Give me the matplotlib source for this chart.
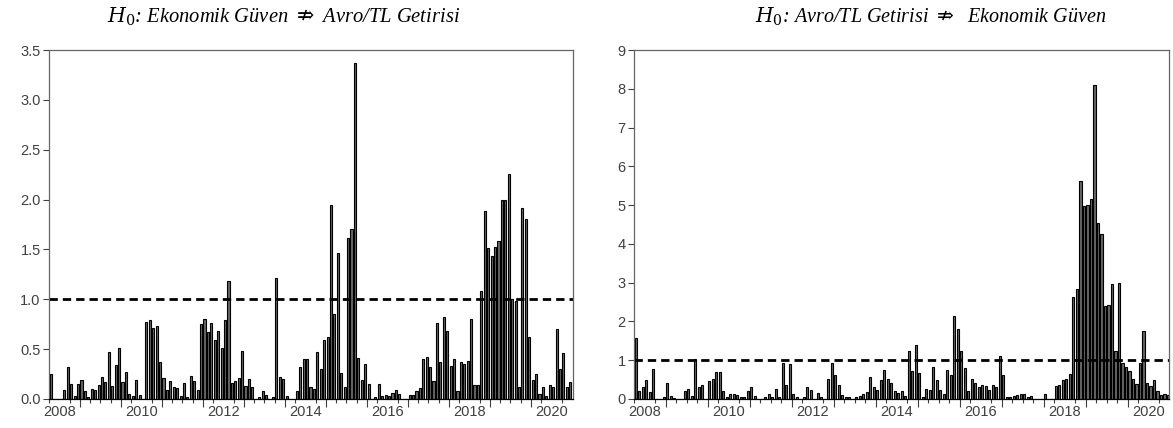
import numpy as np
import pandas as pd
import matplotlib
matplotlib.use("Agg")
import matplotlib.pyplot as plt

# aylik seriler, 2008M04 - 2020M12
aylar = pd.period_range("2008-04", "2020-12", freq="M")

guven_to_kur = [
    0.25, 0, 0, 0, 0.09, 0.32, 0.15, 0.03, 0.15, 0.19, 0.08, 0.02, 0.10, 0.09, 0.14, 0.22,
    0.17, 0.47, 0.13, 0.34, 0.51, 0.17, 0.27, 0.05, 0.03, 0.19, 0.04, 0.0, 0.77, 0.79, 0.71, 0.73,
    0.37, 0.21, 0.09, 0.18, 0.12, 0.11, 0.03, 0.16, 0.02, 0.23, 0.18, 0.09, 0.75, 0.80, 0.67, 0.76,
    0.59, 0.68, 0.51, 0.79, 1.18, 0.16, 0.18, 0.21, 0.48, 0.13, 0.20, 0.12, 0.0, 0.02, 0.08, 0.04,
    0.0, 0.02, 1.21, 0.22, 0.20, 0.03, 0.0, 0.0, 0.08, 0.32, 0.40, 0.40, 0.12, 0.10, 0.47, 0.30,
    0.59, 0.62, 1.95, 0.85, 1.46, 0.26, 0.12, 1.61, 1.70, 3.37, 0.41, 0.19, 0.35, 0.15, 0.0, 0.02,
    0.15, 0.03, 0.04, 0.03, 0.06, 0.09, 0.05, 0.0, 0.0, 0.04, 0.04, 0.08, 0.11, 0.40, 0.42, 0.32,
    0.18, 0.76, 0.37, 0.82, 0.68, 0.33, 0.40, 0.08, 0.37, 0.35, 0.38, 0.80, 0.14, 0.14, 1.08, 1.89,
    1.51, 1.43, 1.52, 1.58, 2.00, 2.00, 2.26, 1.00, 0.98, 0.12, 1.92, 1.81, 0.62, 0.19, 0.25, 0.05,
    0.12, 0.03, 0.14, 0.12, 0.70, 0.30, 0.46, 0.12, 0.17,
]

kur_to_guven = [
    1.58, 0.20, 0.30, 0.49, 0.17, 0.77, 0, 0, 0.04, 0.40, 0.08, 0.03, 0, 0, 0.20, 0.27,
    0.08, 1.02, 0.32, 0.35, 0, 0.46, 0.51, 0.70, 0.70, 0.20, 0.04, 0.13, 0.13, 0.10, 0.06, 0.06,
    0.20, 0.30, 0.08, 0, 0, 0.06, 0.13, 0.04, 0.27, 0.06, 0.92, 0.36, 0.90, 0.14, 0.06, 0,
    0.04, 0.30, 0.23, 0, 0.16, 0.05, 0, 0.52, 0.92, 0.61, 0.36, 0.11, 0.05, 0.05, 0, 0.04,
    0.08, 0.14, 0.17, 0.58, 0.30, 0.24, 0.49, 0.74, 0.52, 0.40, 0.21, 0.15, 0.21, 0.08, 1.25, 0.71,
    1.39, 0.67, 0.04, 0.27, 0.23, 0.83, 0.49, 0.23, 0.14, 0.74, 0.61, 2.15, 1.81, 1.25, 0.80, 0.21,
    0.52, 0.40, 0.30, 0.36, 0.34, 0.23, 0.36, 0.30, 1.11, 0.61, 0.04, 0.06, 0.08, 0.11, 0.14, 0.14,
    0.04, 0.08, 0, 0, 0, 0.14, 0, 0, 0.33, 0.36, 0.48, 0.52, 0.64, 2.62, 2.84, 5.63,
    4.98, 5.01, 5.16, 8.11, 4.53, 4.26, 2.40, 2.42, 2.97, 1.24, 3.00, 0.92, 0.83, 0.73, 0.52, 0.39,
    0.92, 1.76, 0.42, 0.34, 0.48, 0.21, 0.10, 0.14, 0.10,
]

esik = 1.0
yil_etiketleri = ["2008", "2010", "2012", "2014", "2016", "2018", "2020"]

basliklar = [
    r"$H_0$: Ekonomik Güven $\nRightarrow$ Avro/TL Getirisi",
    r"$H_0$: Avro/TL Getirisi $\nRightarrow$  Ekonomik Güven",
]

plt.rcParams["font.family"] = ["Liberation Sans", "DejaVu Sans"]
plt.rcParams["mathtext.fontset"] = "dejavuserif"

x = np.arange(len(aylar))
ay_no = np.array([p.month for p in aylar])
yil_no = np.array([p.year for p in aylar])
yil_sinir = x[ay_no == 1] - 0.5
ceyrek_sinir = x[(ay_no % 3 == 1) & (ay_no != 1)] - 0.5
etiket_yer = [x[(yil_no == int(y)) & (ay_no == 7)][0] - 0.5 if int(y) > 2008 else 2.5
              for y in yil_etiketleri]

fig = plt.figure(figsize=(11.73, 4.28), dpi=100)
W, H = 1173, 428
ax1 = fig.add_axes([49 / W, (H - 399) / H, 524 / W, 349 / H])
ax2 = fig.add_axes([634 / W, (H - 399) / H, 535 / W, 349 / H])

gri = "#404040"
for ax, veri, ylim, yt, fmt, xlim in [
    (ax1, guven_to_kur, 3.5, np.arange(0, 3.51, 0.5), "{:.1f}", (-0.45, 152.8)),
    (ax2, kur_to_guven, 9, np.arange(0, 10, 1), "{:.0f}", (-0.45, 152.3)),
]:
    ax.bar(x, veri, width=0.62, color="#666666", edgecolor="black", linewidth=0.8)
    ax.axhline(esik, color="black", linewidth=2.0, linestyle=(0, (3.0, 1.8)))
    ax.set_xlim(*xlim)
    ax.set_ylim(0, ylim)
    ax.set_yticks(yt, [fmt.format(v) for v in yt])
    ax.set_xticks(etiket_yer, yil_etiketleri)
    ax.set_xticks(ceyrek_sinir, minor=True)
    ax.tick_params(axis="x", which="major", length=0, pad=4, labelsize=10.5, labelcolor=gri)
    ax.tick_params(axis="x", which="minor", length=3, width=0.8, color=gri)
    ax.tick_params(axis="y", length=4, width=0.8, color=gri, labelsize=10.5, labelcolor=gri, pad=2)
    sec = ax.secondary_xaxis("bottom")
    sec.set_xticks(yil_sinir)
    sec.tick_params(length=6, width=0.8, color=gri, labelbottom=False)
    sec.spines["bottom"].set_visible(False)
    for s in ax.spines.values():
        s.set_color("#666666")
        s.set_linewidth(0.9)
    ax.spines["bottom"].set_color("black")

fig.text(284 / W, 1 - 17 / H, basliklar[0], ha="center", va="center", fontsize=14.8,
         family=["Liberation Serif", "DejaVu Serif"], style="italic")
fig.text(931 / W, 1 - 17 / H, basliklar[1], ha="center", va="center", fontsize=14.5,
         family=["Liberation Serif", "DejaVu Serif"], style="italic")

fig.savefig("out.png", dpi=100)
